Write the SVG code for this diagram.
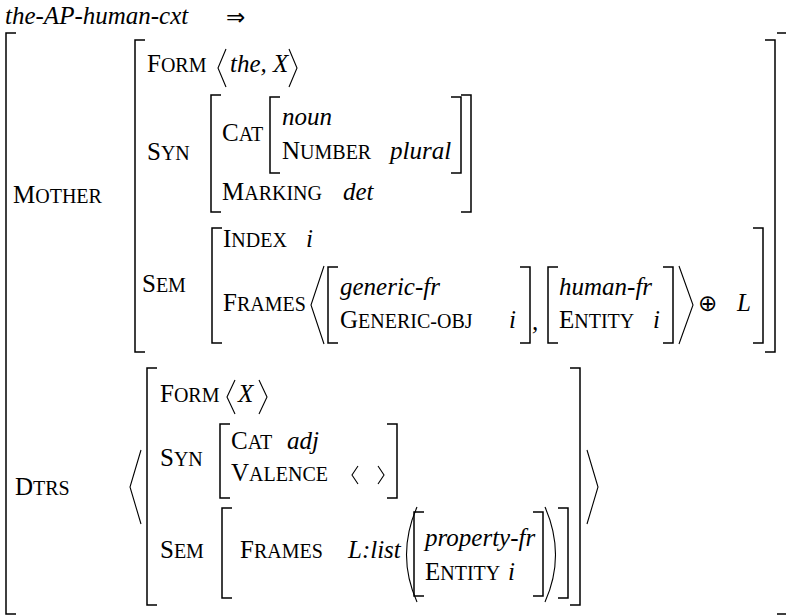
<svg xmlns="http://www.w3.org/2000/svg" width="786" height="615" viewBox="0 0 786 615">
<style>
text{font-family:"Liberation Serif","Times New Roman",serif;fill:#000}
.it{font-style:italic;font-size:25px}
.sc{font-size:20px}
.C{font-size:25px}
.br{fill:none;stroke:#000;stroke-width:1.5;stroke-linecap:butt}
.ang{fill:none;stroke:#000;stroke-width:1.1;stroke-linejoin:miter}
.sym{font-family:"DejaVu Sans",sans-serif}
</style>
<rect width="786" height="615" fill="#fff"/>

<g id="title">
<text class="it" x="5" y="24">the-AP-human-cxt</text>
<text class="sym" x="226" y="25" font-size="23">⇒</text>
</g>

<g id="outer">
<path class="br" d="M16 33H6V614H16"/>
<path class="br" d="M777 33H788V614H777"/>
</g>

<g id="mother">
<text class="sc" x="13" y="203"><tspan class="C">M</tspan>OTHER</text>
<path class="br" d="M145 40H135V352H145"/>
<path class="br" d="M765 40H775V352H765"/>

<g id="m-form">
<text class="sc" x="147" y="72"><tspan class="C">F</tspan>ORM</text>
<polyline class="ang" points="226,49 218,68 226,87"/>
<text class="it" x="230" y="72">the, X</text>
<polyline class="ang" points="289,49 297,68 289,87"/>
</g>

<g id="m-syn">
<text class="sc" x="147" y="160"><tspan class="C">S</tspan>YN</text>
<path class="br" d="M221 95H211V212H221"/>
<text class="sc" x="222" y="141"><tspan class="C">C</tspan>AT</text>
<path class="br" d="M280 97H270V173H280"/>
<text class="it" x="282" y="125">noun</text>
<text class="sc" x="282" y="159"><tspan class="C">N</tspan>UMBER</text>
<text class="it" x="390" y="159">plural</text>
<path class="br" d="M451 97H461V173H451"/>
<text class="sc" x="222" y="200"><tspan class="C">M</tspan>ARKING</text>
<text class="it" x="343" y="200">det</text>
<path class="br" d="M461 95H471V212H461"/>
</g>

<g id="m-sem">
<text class="sc" x="142" y="292"><tspan class="C">S</tspan>EM</text>
<path class="br" d="M222 228H212V343H222"/>
<text class="sc" x="223" y="247"><tspan class="C">I</tspan>NDEX</text>
<text class="it" x="306" y="247">i</text>
<text class="sc" x="223" y="311"><tspan class="C">F</tspan>RAMES</text>
<polyline class="ang" points="324,266 311,305 324,344"/>
<path class="br" d="M338 267H328V343H338"/>
<text class="it" x="340" y="295">generic-fr</text>
<text class="sc" x="340" y="328"><tspan class="C">G</tspan>ENERIC-OBJ</text>
<text class="it" x="509" y="328">i</text>
<path class="br" d="M520 267H530V343H520"/>
<text class="it" x="532" y="330">,</text>
<path class="br" d="M558 267H548V343H558"/>
<text class="it" x="559" y="295">human-fr</text>
<text class="sc" x="559" y="328"><tspan class="C">E</tspan>NTITY</text>
<text class="it" x="653" y="328">i</text>
<path class="br" d="M663 267H673V343H663"/>
<polyline class="ang" points="679,266 693,305 679,344"/>
<text class="sym" x="698" y="311" font-size="23">⊕</text>
<text class="it" x="737" y="311">L</text>
<path class="br" d="M753 228H763V343H753"/>
</g>
</g>

<g id="dtrs">
<text class="sc" x="15" y="495"><tspan class="C">D</tspan>TRS</text>
<polyline class="ang" points="141,450 130,487 141,524"/>
<path class="br" d="M157 368H147V605H157"/>
<path class="br" d="M570 368H580V605H570"/>
<polyline class="ang" points="587,450 598,487 587,524"/>

<g id="d-form">
<text class="sc" x="160" y="402"><tspan class="C">F</tspan>ORM</text>
<polyline class="ang" points="235,380 227,397 235,414"/>
<text class="it" x="238" y="402">X</text>
<polyline class="ang" points="259,380 267,397 259,414"/>
</g>

<g id="d-syn">
<text class="sc" x="160" y="466"><tspan class="C">S</tspan>YN</text>
<path class="br" d="M230 424H220V498H230"/>
<text class="sc" x="231" y="449"><tspan class="C">C</tspan>AT</text>
<text class="it" x="287" y="449">adj</text>
<text class="sc" x="231" y="481"><tspan class="C">V</tspan>ALENCE</text>
<polyline class="ang" points="358,466 352,475 358,484"/>
<polyline class="ang" points="378,466 384,475 378,484"/>
<path class="br" d="M387 424H397V498H387"/>
</g>

<g id="d-sem">
<text class="sc" x="160" y="558"><tspan class="C">S</tspan>EM</text>
<path class="br" d="M232 508H222V598H232"/>
<text class="sc" x="240" y="558"><tspan class="C">F</tspan>RAMES</text>
<text class="it" x="348" y="558">L:list</text>
<path class="ang" d="M417 507Q396 555 417 602"/>
<path class="br" d="M424 512H414V596H424"/>
<text class="it" x="425" y="546">property-fr</text>
<text class="sc" x="425" y="580"><tspan class="C">E</tspan>NTITY</text>
<text class="it" x="508" y="580">i</text>
<path class="br" d="M533 512H543V596H533"/>
<path class="ang" d="M545 507Q566 555 545 602"/>
<path class="br" d="M558 508H568V598H558"/>
</g>
</g>
</svg>
